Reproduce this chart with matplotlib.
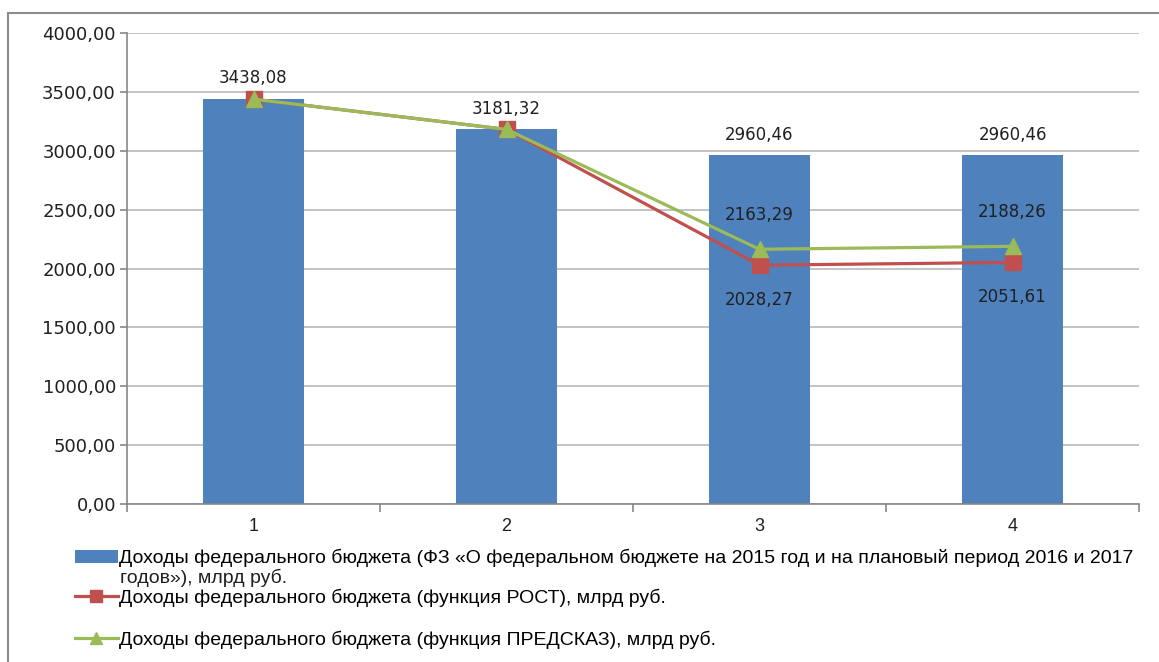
import matplotlib.pyplot as plt
import numpy as np
from matplotlib.lines import Line2D
from matplotlib.patches import Patch
from matplotlib.ticker import FuncFormatter, FixedLocator

# data
periods = [1, 2, 3, 4]
budget_law = [3438.08, 3181.32, 2960.46, 2960.46]
rost = [3438.08, 3181.32, 2028.27, 2051.61]
predskaz = [3438.08, 3181.32, 2163.29, 2188.26]

label_law = "Доходы федерального бюджета (ФЗ «О федеральном бюджете на 2015 год и на плановый период 2016 и 2017"
label_law2 = "годов»), млрд руб."
label_rost = "Доходы федерального бюджета (функция РОСТ), млрд руб."
label_pred = "Доходы федерального бюджета (функция ПРЕДСКАЗ), млрд руб."

blue = '#4F81BD'
red = '#C0504D'
green = '#9BBB59'
axis_gray = '#878787'
grid_gray = '#BEBEBE'

def fmt(v):
    return ("%.2f" % v).replace('.', ',')

fig = plt.figure(figsize=(11.59, 6.62), dpi=100)
ax = fig.add_axes([127/1159, 1-504/662, (1139-127)/1159, (504-33)/662])

x = np.array(periods)
ax.bar(x, budget_law, width=0.4, color=blue, zorder=2)
ax.plot(x, rost, color=red, lw=2.3, marker='s', ms=11, zorder=3)
ax.plot(x, predskaz, color=green, lw=2.3, marker='^', ms=12, zorder=4)

# data labels
for xi, v in zip(x, budget_law):
    ax.annotate(fmt(v), (xi, v), xytext=(0, 15), textcoords='offset points',
                ha='center', va='center', fontsize=12, color='#202020', zorder=5)
for xi, v in zip(x[2:], predskaz[2:]):
    ax.annotate(fmt(v), (xi, v), xytext=(0, 25), textcoords='offset points',
                ha='center', va='center', fontsize=12, color='#202020', zorder=5)
for xi, v in zip(x[2:], rost[2:]):
    ax.annotate(fmt(v), (xi, v), xytext=(0, -25), textcoords='offset points',
                ha='center', va='center', fontsize=12, color='#202020', zorder=5)

ax.set_xlim(0.5, 4.5)
ax.set_ylim(0, 4000)
ax.set_yticks(np.arange(0, 4001, 500))
ax.yaxis.set_major_formatter(FuncFormatter(lambda v, p: fmt(v)))
ax.set_xticks(periods)
ax.set_xticklabels([str(p) for p in periods])
ax.xaxis.set_minor_locator(FixedLocator(np.arange(0.5, 4.6, 1)))
ax.tick_params(axis='x', which='major', length=0, pad=10, labelsize=13,
               labelcolor='#202020')
ax.tick_params(axis='x', which='minor', length=6, color=axis_gray, width=1.2)
ax.tick_params(axis='y', length=5, color=axis_gray, width=1.2, pad=3,
               labelsize=13, labelcolor='#202020')
for lab in ax.get_xticklabels():
    lab.set_family('Liberation Sans')

ax.grid(axis='y', color=grid_gray, lw=1.3, zorder=0)
ax.set_axisbelow(True)
for s in ['top', 'right']:
    ax.spines[s].set_visible(False)
ax.spines['left'].set_color(axis_gray)
ax.spines['bottom'].set_color(axis_gray)
ax.spines['left'].set_linewidth(1.2)
ax.spines['bottom'].set_linewidth(1.2)

# legend
leg_font = {'family': 'Liberation Sans', 'size': 14}
h_bar = Patch(facecolor=blue)
h_red = Line2D([], [], color=red, lw=2.3, marker='s', ms=9)
h_grn = Line2D([], [], color=green, lw=2.3, marker='^', ms=9)
entries = [(h_bar, label_law, 558), (h_red, label_rost, 598), (h_grn, label_pred, 640)]
for h, lab, ypx in entries:
    fig.legend([h], [lab], loc='center left', bbox_to_anchor=(75/1159, 1-ypx/662),
               frameon=False, prop=leg_font, handlelength=2.2, handletextpad=0.05,
               borderpad=0, borderaxespad=0)
fig.text(120/1159, 1-578/662, label_law2, ha='left', va='center',
         family='Liberation Sans', fontsize=14, color='#202020')

# outer frame
fig.add_artist(Line2D([8/1159, 1.0], [1-13/662, 1-13/662], color='#8C8C8C', lw=1.5))
fig.add_artist(Line2D([8/1159, 8/1159], [0, 1-13/662], color='#8C8C8C', lw=1.5))

fig.savefig('out.png', dpi=100)
